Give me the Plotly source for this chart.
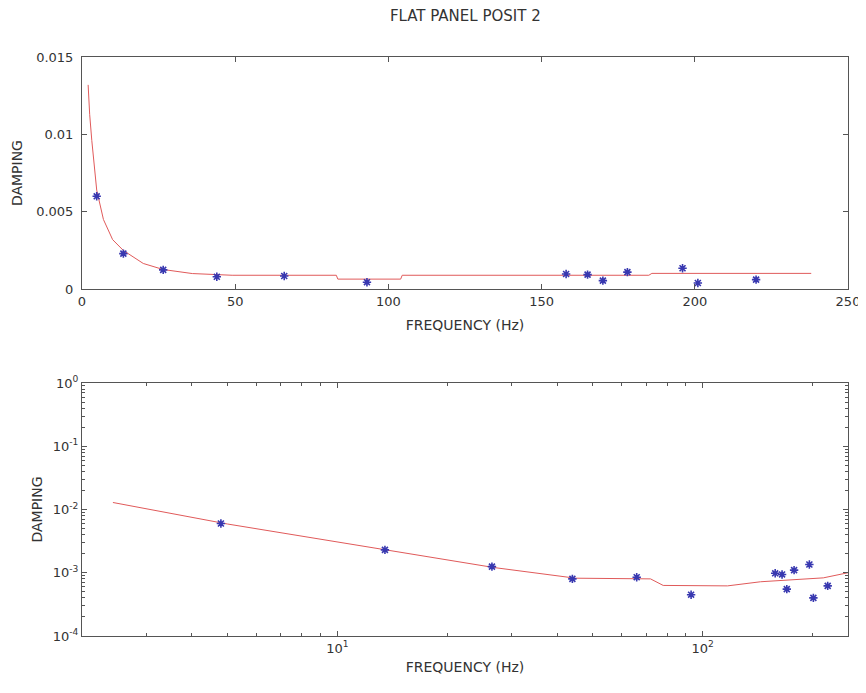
import plotly.graph_objects as go
from plotly.subplots import make_subplots

# measured modes
freq_hz = [4.8, 13.5, 26.5, 44, 66, 93, 158, 165, 170, 178, 196, 201, 220]
damping = [0.0060, 0.0023, 0.00125, 0.00080, 0.00085, 0.00045, 0.00098, 0.00094,
           0.00055, 0.00110, 0.00135, 0.00040, 0.00062]

# fitted curve, linear plot
fit_lin_freq = [2.0, 2.5, 3.2, 4.8, 7, 10, 13.5, 20, 26.5, 36, 49, 83, 83.5,
                104, 104.5, 185, 186, 238]
fit_lin_damp = [0.0132, 0.0113, 0.0096, 0.0064, 0.0045, 0.0032, 0.0025, 0.00166,
                0.00127, 0.00101, 0.0009, 0.0009, 0.00065, 0.00065, 0.0009,
                0.0009, 0.00102, 0.00102]

# fitted curve, log plot
fit_log_freq = [2.43, 5, 13.7, 26.8, 44.9, 72, 78, 117, 144, 214, 250]
fit_log_damp = [0.0129, 0.0059, 0.00228, 0.00121, 0.00082, 0.00080, 0.00063,
                0.00062, 0.00072, 0.00083, 0.0010]

lin_xticks = [0, 50, 100, 150, 200, 250]
lin_yticks = [0, 0.005, 0.01, 0.015]
log_yticks = [1e-4, 1e-3, 1e-2, 1e-1, 1]
log_ytext = ["10<sup>-4</sup>", "10<sup>-3</sup>", "10<sup>-2</sup>",
             "10<sup>-1</sup>", "10<sup>0</sup>"]
log_xticks = [10, 100]
log_xtext = ["10<sup>1</sup>", "10<sup>2</sup>"]

AX = "#555555"
FONT = "DejaVu Sans"
LINE = "#e05a5a"
MARK = "#3838b0"

fig = make_subplots(rows=2, cols=1, vertical_spacing=0.16)

marker = dict(symbol="asterisk-open", size=7, color=MARK,
              line=dict(color=MARK, width=1.6))

fig.add_trace(go.Scatter(x=fit_lin_freq, y=fit_lin_damp, mode="lines",
                         line=dict(color=LINE, width=1)), row=1, col=1)
fig.add_trace(go.Scatter(x=freq_hz, y=damping, mode="markers", marker=marker),
              row=1, col=1)
fig.add_trace(go.Scatter(x=fit_log_freq, y=fit_log_damp, mode="lines",
                         line=dict(color=LINE, width=1)), row=2, col=1)
fig.add_trace(go.Scatter(x=freq_hz, y=damping, mode="markers", marker=marker),
              row=2, col=1)

common = dict(showline=True, linecolor=AX, linewidth=1, mirror="ticks",
              ticks="inside", ticklen=5, tickcolor=AX, showgrid=False,
              zeroline=False, automargin=False,
              tickfont=dict(size=13, color="#333"),
              title_font=dict(size=14, color="#333"))

fig.update_xaxes(range=[0, 250], tickvals=lin_xticks,
                 title_text="FREQUENCY (Hz)", title_standoff=12, row=1, col=1, **common)
fig.update_yaxes(range=[0, 0.015], tickvals=lin_yticks, ticklabelstandoff=5,
                 title_text="DAMPING", title_standoff=10, row=1, col=1, **common)

fig.update_xaxes(type="log", range=[0.301, 2.398], tickvals=log_xticks,
                 ticktext=log_xtext, title_text="FREQUENCY (Hz)", title_standoff=7,
                 minor=dict(ticks="inside", ticklen=3, tickcolor=AX,
                            tickvals=[2, 3, 4, 5, 6, 7, 8, 9, 20, 30, 40, 50,
                                      60, 70, 80, 90, 200]),
                 row=2, col=1, **common)
fig.update_yaxes(type="log", range=[-4, 0], tickvals=log_yticks,
                 ticktext=log_ytext, title_text="DAMPING", title_standoff=6,
                 minor=dict(ticks="inside", ticklen=3, tickcolor=AX,
                            tickvals=[k * 10.0 ** e for e in range(-4, 0)
                                      for k in range(2, 10)]),
                 row=2, col=1, **common)

# page body has an 8px margin, so the figure is 8px smaller than the window
fig.update_layout(
    width=858, height=685,
    margin=dict(l=74, r=18, t=49, b=57, autoexpand=False),
    paper_bgcolor="white", plot_bgcolor="white",
    font=dict(family=FONT, color="#333"),
    showlegend=False,
    title=dict(text="FLAT PANEL POSIT 2", x=0.533, xanchor="center",
               y=0.997, yanchor="top", font=dict(size=15, color="#333")),
)
fig.update_yaxes(domain=[0.599, 1.0], row=1, col=1)
fig.update_yaxes(domain=[0.0, 0.437], row=2, col=1)

fig.write_html("out.html")
